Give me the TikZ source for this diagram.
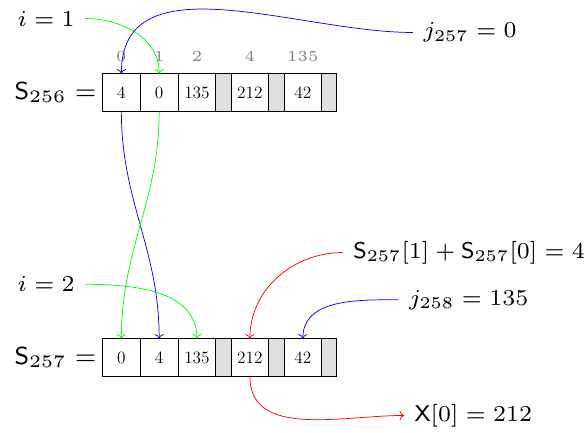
\documentclass[tikz,border=0pt]{standalone}
\usepackage{amsmath}
\usepackage{tikz}
\usetikzlibrary{arrows.meta,positioning}

\begin{document}
\begin{tikzpicture}[
  cell/.style={draw, line width=0.6pt, minimum width=1cm, minimum height=1cm,
    inner sep=0pt, outer sep=0pt, font=\fontsize{13}{15}\selectfont},
  pad/.style={cell, minimum width=0.4cm, fill=gray!25},
  idx/.style={font=\tiny, text=gray, scale=2.3, inner sep=1pt},
  lbl/.style={font=\scriptsize, scale=2.45, inner sep=3pt},
  link/.style={-{To[length=3.5pt, width=7pt]}, line width=0.55pt}
]
\useasboundingbox (0,0) rectangle (15.50,-11.43);

% state before the step
\node[cell] (t0) at (3.21,-2.45) {4};
\node[cell, right=0pt of t0] (t1) {0};
\node[cell, right=0pt of t1] (t2) {135};
\node[pad, right=0pt of t2] (tp2) {};
\node[cell, right=0pt of tp2] (t3) {212};
\node[pad, right=0pt of t3] (tp3) {};
\node[cell, right=0pt of tp3] (t4) {42};
\node[pad, right=0pt of t4] (tp4) {};
\node[lbl, scale=1.08, left=0pt of t0, inner sep=1.5pt] (s256) {$\mathsf{S}_{256} =$};

\node[idx, above=0.22cm of t0] (k0) {0};
\node[idx, above=0.22cm of t1] (k1) {1};
\node[idx, above=0.22cm of t2] (k2) {2};
\node[idx, above=0.22cm of t3] (k4) {4};
\node[idx, above=0.22cm of t4] (k135) {135};

% state after the step
\node[cell] (b0) at (3.21,-9.46) {0};
\node[cell, right=0pt of b0] (b1) {4};
\node[cell, right=0pt of b1] (b2) {135};
\node[pad, right=0pt of b2] (bp2) {};
\node[cell, right=0pt of bp2] (b3) {212};
\node[pad, right=0pt of b3] (bp3) {};
\node[cell, right=0pt of bp3] (b4) {42};
\node[pad, right=0pt of b4] (bp4) {};
\node[lbl, scale=1.08, left=0pt of b0, inner sep=1.5pt] (s257) {$\mathsf{S}_{257} =$};

\node[lbl, anchor=base east] (i1) at (2.25,-0.69) {$i = 1$};
\node[lbl, anchor=base west] (j257) at (10.92,-1.00) {$j_{257} = 0$};
\node[lbl, anchor=base east] (i2) at (2.25,-7.72) {$i = 2$};
\node[lbl, anchor=base west] (sum) at (9.07,-6.83)
  {$\mathsf{S}_{257}[1] + \mathsf{S}_{257}[0] = 4$};
\node[lbl, anchor=base west] (j258) at (10.54,-8.07) {$j_{258} = 135$};
\node[lbl, anchor=base west] (x0) at (10.69,-11.14) {$\mathsf{X}[0] = 212$};

\draw[link, green] (i1.east) to[out=0, in=90] (t1.north);
\draw[link, blue] (j257.west) to[out=180, in=90] (t0.north);
\draw[link, blue] (t0.south) to[out=-90, in=90] (b1.north);
\draw[link, green] (t1.south) to[out=-90, in=90] (b0.north);
\draw[link, green] (i2.east) to[out=0, in=90] (b2.north);
\draw[link, red] (sum.west) to[out=180, in=90] (b3.north);
\draw[link, blue] (j258.west) to[out=180, in=90] (b4.north);
\draw[link, red] (b3.south) to[out=-90, in=180] (x0.west);
\end{tikzpicture}
\end{document}
